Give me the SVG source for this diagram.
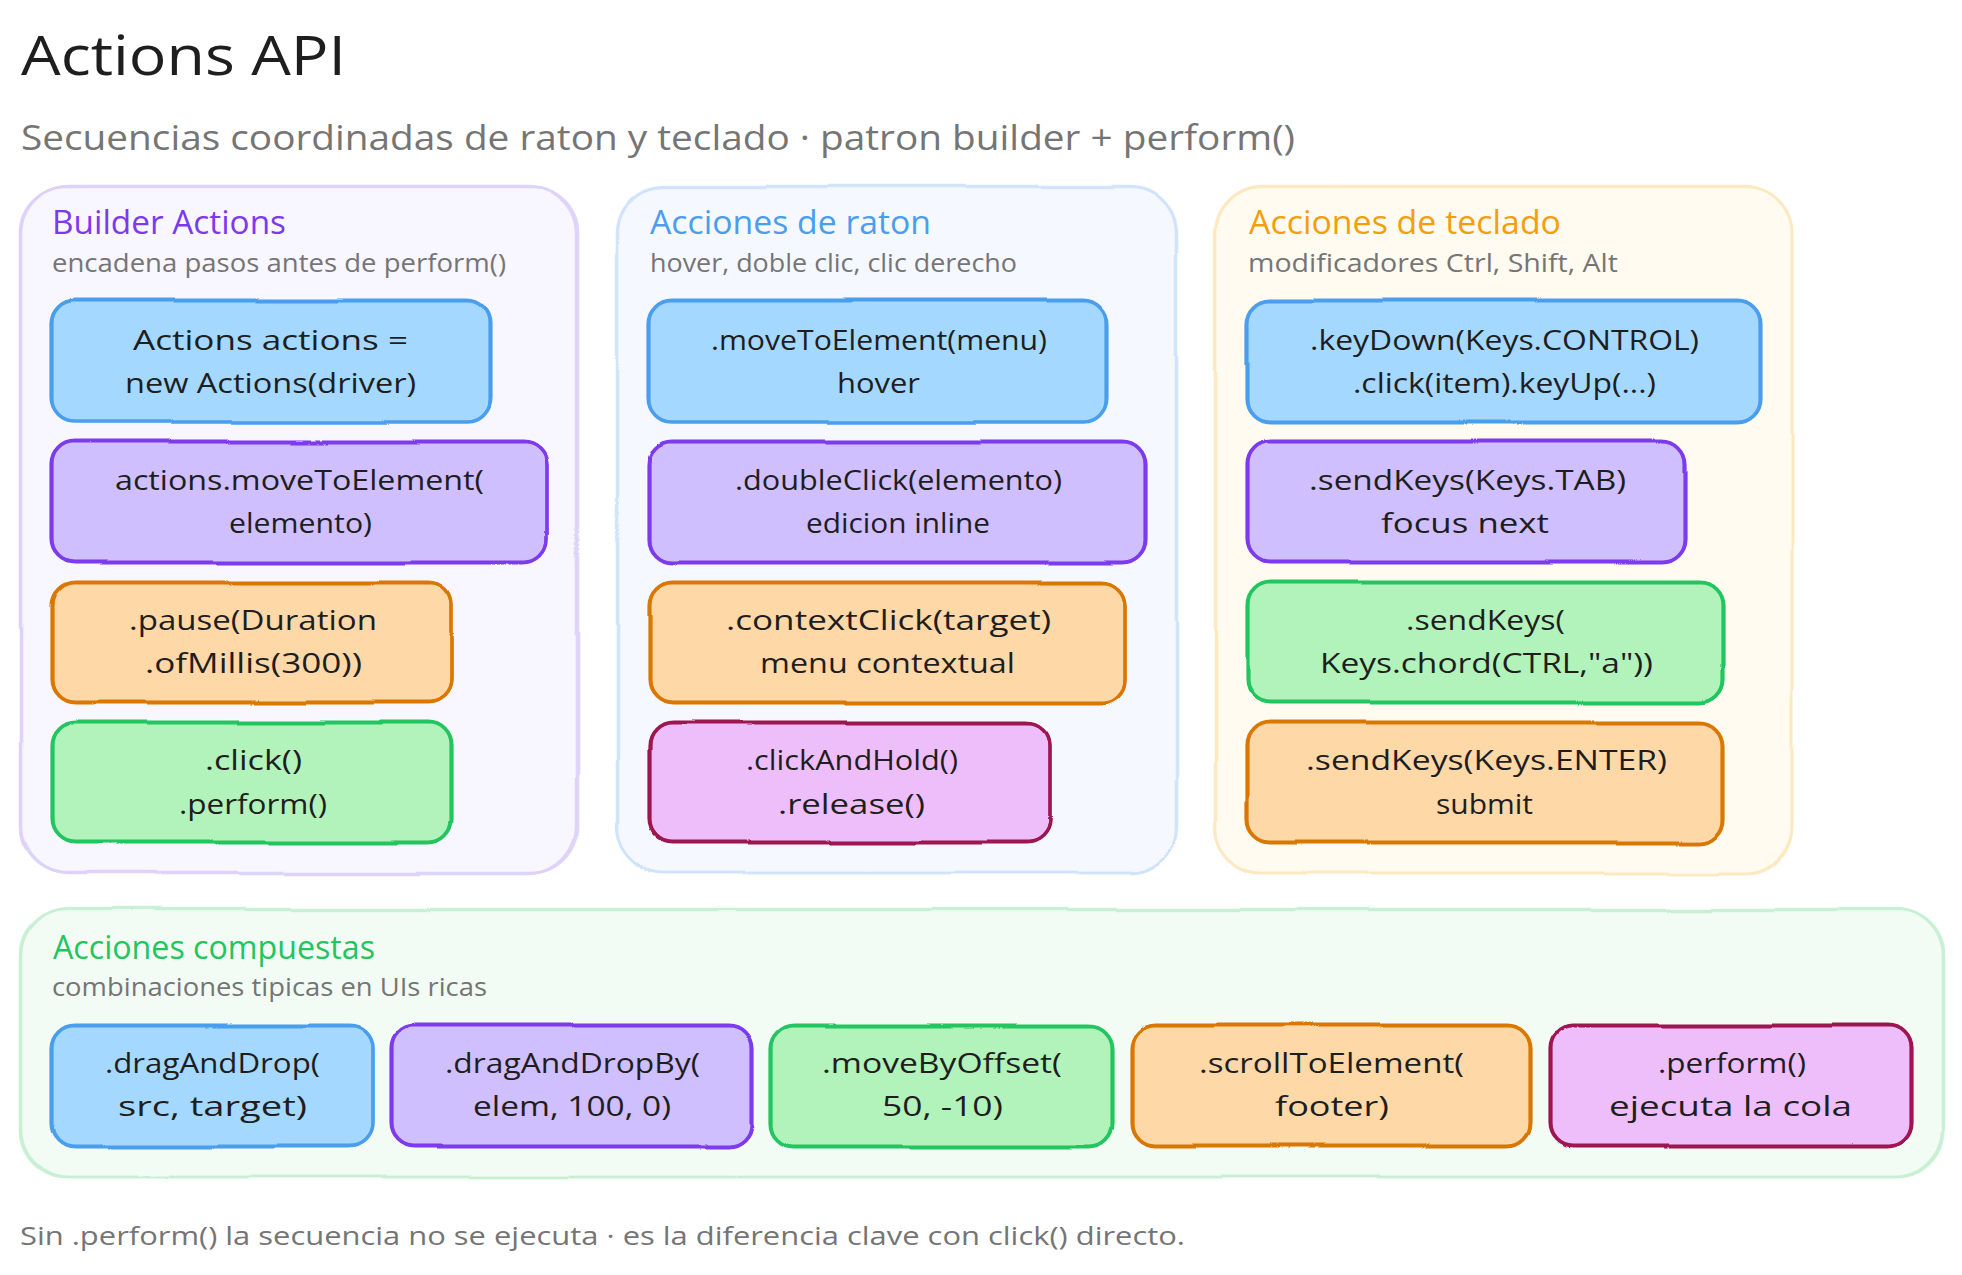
<svg xmlns="http://www.w3.org/2000/svg" width="1962" height="1275" viewBox="0 0 1962 1275">
<defs>
<filter id="w" x="-5%" y="-5%" width="110%" height="110%"><feTurbulence type="fractalNoise" baseFrequency="0.005" numOctaves="1" seed="4"/><feDisplacementMap in="SourceGraphic" scale="6" xChannelSelector="R" yChannelSelector="G"/></filter>
</defs>
<style>
text{font-family:"Open Sans","Noto Sans",sans-serif;fill:#1e1e1e}
.t{font-size:28px;font-weight:500}
.h{font-size:32px;font-weight:500}
.s{font-size:25px;fill:#757575}
.pf{stroke:none}
.o{fill:none;stroke-width:3.2;stroke-linejoin:round;filter:url(#w)}
.c{stroke-width:2.6;fill:none;stroke-opacity:.9;filter:url(#w)}
.bl .pf{fill:#a5d8ff}.bl .o{stroke:#4a9eed}
.pu .pf{fill:#d0bfff}.pu .o{stroke:#7c3aed}
.or .pf{fill:#ffd8a8}.or .o{stroke:#d97706}
.gr .pf{fill:#b2f2bb}.gr .o{stroke:#22c55e}
.pk .pf{fill:#eebefa}.pk .o{stroke:#9d1750}
</style>
<rect width="1962" height="1275" fill="#ffffff"/>
<g id="heading">
<text x="21" y="75" font-size="54" font-weight="500" textLength="325" lengthAdjust="spacingAndGlyphs">Actions API</text>
<text x="21" y="150" font-size="34" style="fill:#757575" textLength="1274" lengthAdjust="spacingAndGlyphs">Secuencias coordinadas de raton y teclado · patron builder + perform()</text>
</g>
<g id="section-builder">
<rect x="20" y="187" width="558" height="686" rx="46" fill="#f8f6ff"/>
<rect class="c" x="20" y="187" width="558" height="686" rx="46" stroke="#ddd0f8"/>
<rect class="c" x="21" y="186" width="555" height="688" rx="48" stroke="#ddd0f8"/>
<text class="h" x="52" y="234" style="fill:#7c3aed" textLength="234" lengthAdjust="spacingAndGlyphs">Builder Actions</text>
<text class="s" x="52" y="272" textLength="454" lengthAdjust="spacingAndGlyphs">encadena pasos antes de perform()</text>
</g>
<g id="section-raton">
<rect x="618" y="187" width="558" height="686" rx="46" fill="#f5f8ff"/>
<rect class="c" x="618" y="187" width="558" height="686" rx="46" stroke="#cfe3fb"/>
<rect class="c" x="617" y="186" width="560" height="687" rx="48" stroke="#cfe3fb"/>
<text class="h" x="650" y="234" style="fill:#4a9eed" textLength="281" lengthAdjust="spacingAndGlyphs">Acciones de raton</text>
<text class="s" x="650" y="272" textLength="367" lengthAdjust="spacingAndGlyphs">hover, doble clic, clic derecho</text>
</g>
<g id="section-teclado">
<rect x="1216" y="187" width="576" height="686" rx="46" fill="#fffbf0"/>
<rect class="c" x="1216" y="187" width="576" height="686" rx="46" stroke="#fde8bf"/>
<rect class="c" x="1215" y="186" width="577" height="687" rx="48" stroke="#fde8bf"/>
<text class="h" x="1249" y="234" style="fill:#f59e0b" textLength="312" lengthAdjust="spacingAndGlyphs">Acciones de teclado</text>
<text class="s" x="1248" y="272" textLength="370" lengthAdjust="spacingAndGlyphs">modificadores Ctrl, Shift, Alt</text>
</g>
<g id="section-compuestas">
<rect x="20" y="910" width="1923" height="267" rx="46" fill="#f2fcf5"/>
<rect class="c" x="20" y="910" width="1923" height="267" rx="46" stroke="#c5f0d3"/>
<rect class="c" x="21" y="909" width="1921" height="268" rx="48" stroke="#c5f0d3"/>
<text class="h" x="53" y="959" style="fill:#22c55e" textLength="322" lengthAdjust="spacingAndGlyphs">Acciones compuestas</text>
<text class="s" x="52" y="996" textLength="435" lengthAdjust="spacingAndGlyphs">combinaciones tipicas en UIs ricas</text>
</g>
<g id="n-actions" class="bl"><rect class="pf" x="52" y="301" width="437" height="121" rx="22"/><rect class="o" x="52" y="301" width="437" height="121" rx="22"/><rect class="o" x="51" y="300" width="439" height="122" rx="24"/><text class="t" x="133" y="350" textLength="275" lengthAdjust="spacingAndGlyphs">Actions actions =</text><text class="t" x="125" y="393" textLength="291" lengthAdjust="spacingAndGlyphs">new Actions(driver)</text></g>
<g id="n-move" class="pu"><rect class="pf" x="52" y="442" width="495" height="120" rx="22"/><rect class="o" x="52" y="442" width="495" height="120" rx="22"/><rect class="o" x="51" y="441" width="496" height="122" rx="24"/><text class="t" x="115" y="490" textLength="369" lengthAdjust="spacingAndGlyphs">actions.moveToElement(</text><text class="t" x="229" y="533" textLength="143" lengthAdjust="spacingAndGlyphs">elemento)</text></g>
<g id="n-pause" class="or"><rect class="pf" x="52" y="583" width="400" height="119" rx="22"/><rect class="o" x="52" y="583" width="400" height="119" rx="22"/><rect class="o" x="51" y="582" width="401" height="121" rx="24"/><text class="t" x="129" y="630" textLength="248" lengthAdjust="spacingAndGlyphs">.pause(Duration</text><text class="t" x="145" y="673" textLength="217" lengthAdjust="spacingAndGlyphs">.ofMillis(300))</text></g>
<g id="n-click" class="gr"><rect class="pf" x="52" y="723" width="399" height="119" rx="22"/><rect class="o" x="52" y="723" width="399" height="119" rx="22"/><rect class="o" x="51" y="722" width="401" height="121" rx="24"/><text class="t" x="205" y="770" textLength="97" lengthAdjust="spacingAndGlyphs">.click()</text><text class="t" x="179" y="814" textLength="148" lengthAdjust="spacingAndGlyphs">.perform()</text></g>
<g id="n-hover" class="bl"><rect class="pf" x="650" y="301" width="456" height="121" rx="22"/><rect class="o" x="650" y="301" width="456" height="121" rx="22"/><rect class="o" x="649" y="300" width="458" height="122" rx="24"/><text class="t" x="711" y="350" textLength="336" lengthAdjust="spacingAndGlyphs">.moveToElement(menu)</text><text class="t" x="837" y="393" textLength="83" lengthAdjust="spacingAndGlyphs">hover</text></g>
<g id="n-double" class="pu"><rect class="pf" x="650" y="442" width="495" height="120" rx="22"/><rect class="o" x="650" y="442" width="495" height="120" rx="22"/><rect class="o" x="649" y="441" width="497" height="122" rx="24"/><text class="t" x="735" y="490" textLength="327" lengthAdjust="spacingAndGlyphs">.doubleClick(elemento)</text><text class="t" x="806" y="533" textLength="184" lengthAdjust="spacingAndGlyphs">edicion inline</text></g>
<g id="n-context" class="or"><rect class="pf" x="650" y="583" width="474" height="119" rx="22"/><rect class="o" x="650" y="583" width="474" height="119" rx="22"/><rect class="o" x="649" y="582" width="475" height="121" rx="24"/><text class="t" x="726" y="630" textLength="325" lengthAdjust="spacingAndGlyphs">.contextClick(target)</text><text class="t" x="760" y="673" textLength="255" lengthAdjust="spacingAndGlyphs">menu contextual</text></g>
<g id="n-hold" class="pk"><rect class="pf" x="650" y="723" width="400" height="119" rx="22"/><rect class="o" x="650" y="723" width="400" height="119" rx="22"/><rect class="o" x="649" y="722" width="401" height="121" rx="24"/><text class="t" x="746" y="770" textLength="212" lengthAdjust="spacingAndGlyphs">.clickAndHold()</text><text class="t" x="778" y="814" textLength="147" lengthAdjust="spacingAndGlyphs">.release()</text></g>
<g id="n-keydown" class="bl"><rect class="pf" x="1248" y="301" width="512" height="121" rx="22"/><rect class="o" x="1248" y="301" width="512" height="121" rx="22"/><rect class="o" x="1247" y="300" width="514" height="123" rx="24"/><text class="t" x="1310" y="350" textLength="389" lengthAdjust="spacingAndGlyphs">.keyDown(Keys.CONTROL)</text><text class="t" x="1353" y="393" textLength="303" lengthAdjust="spacingAndGlyphs">.click(item).keyUp(...)</text></g>
<g id="n-tab" class="pu"><rect class="pf" x="1248" y="442" width="436" height="120" rx="22"/><rect class="o" x="1248" y="442" width="436" height="120" rx="22"/><rect class="o" x="1247" y="441" width="438" height="122" rx="24"/><text class="t" x="1309" y="490" textLength="317" lengthAdjust="spacingAndGlyphs">.sendKeys(Keys.TAB)</text><text class="t" x="1381" y="533" textLength="168" lengthAdjust="spacingAndGlyphs">focus next</text></g>
<g id="n-chord" class="gr"><rect class="pf" x="1248" y="583" width="474" height="119" rx="22"/><rect class="o" x="1248" y="583" width="474" height="119" rx="22"/><rect class="o" x="1247" y="582" width="476" height="121" rx="24"/><text class="t" x="1406" y="630" textLength="159" lengthAdjust="spacingAndGlyphs">.sendKeys(</text><text class="t" x="1320" y="673" textLength="333" lengthAdjust="spacingAndGlyphs">Keys.chord(CTRL,"a"))</text></g>
<g id="n-enter" class="or"><rect class="pf" x="1248" y="723" width="474" height="119" rx="22"/><rect class="o" x="1248" y="723" width="474" height="119" rx="22"/><rect class="o" x="1247" y="722" width="476" height="121" rx="24"/><text class="t" x="1306" y="770" textLength="361" lengthAdjust="spacingAndGlyphs">.sendKeys(Keys.ENTER)</text><text class="t" x="1436" y="814" textLength="97" lengthAdjust="spacingAndGlyphs">submit</text></g>
<g id="n-drag" class="bl"><rect class="pf" x="52" y="1026" width="321" height="120" rx="22"/><rect class="o" x="52" y="1026" width="321" height="120" rx="22"/><rect class="o" x="51" y="1025" width="322" height="122" rx="24"/><text class="t" x="105" y="1073" textLength="215" lengthAdjust="spacingAndGlyphs">.dragAndDrop(</text><text class="t" x="118" y="1116" textLength="189" lengthAdjust="spacingAndGlyphs">src, target)</text></g>
<g id="n-dragby" class="pu"><rect class="pf" x="392" y="1026" width="360" height="120" rx="22"/><rect class="o" x="392" y="1026" width="360" height="120" rx="22"/><rect class="o" x="391" y="1025" width="362" height="122" rx="24"/><text class="t" x="445" y="1073" textLength="255" lengthAdjust="spacingAndGlyphs">.dragAndDropBy(</text><text class="t" x="473" y="1116" textLength="198" lengthAdjust="spacingAndGlyphs">elem, 100, 0)</text></g>
<g id="n-offset" class="gr"><rect class="pf" x="772" y="1026" width="339" height="120" rx="22"/><rect class="o" x="772" y="1026" width="339" height="120" rx="22"/><rect class="o" x="771" y="1025" width="341" height="122" rx="24"/><text class="t" x="822" y="1073" textLength="240" lengthAdjust="spacingAndGlyphs">.moveByOffset(</text><text class="t" x="882" y="1116" textLength="121" lengthAdjust="spacingAndGlyphs">50, -10)</text></g>
<g id="n-scroll" class="or"><rect class="pf" x="1132" y="1026" width="397" height="120" rx="22"/><rect class="o" x="1132" y="1026" width="397" height="120" rx="22"/><rect class="o" x="1131" y="1025" width="399" height="122" rx="24"/><text class="t" x="1199" y="1073" textLength="265" lengthAdjust="spacingAndGlyphs">.scrollToElement(</text><text class="t" x="1275" y="1116" textLength="114" lengthAdjust="spacingAndGlyphs">footer)</text></g>
<g id="n-perform" class="pk"><rect class="pf" x="1550" y="1026" width="360" height="120" rx="22"/><rect class="o" x="1550" y="1026" width="360" height="120" rx="22"/><rect class="o" x="1549" y="1025" width="362" height="122" rx="24"/><text class="t" x="1658" y="1073" textLength="148" lengthAdjust="spacingAndGlyphs">.perform()</text><text class="t" x="1609" y="1116" textLength="243" lengthAdjust="spacingAndGlyphs">ejecuta la cola</text></g>
<g id="footer"><text class="s" x="20" y="1245" textLength="1165" lengthAdjust="spacingAndGlyphs">Sin .perform() la secuencia no se ejecuta · es la diferencia clave con click() directo.</text></g>
</svg>
